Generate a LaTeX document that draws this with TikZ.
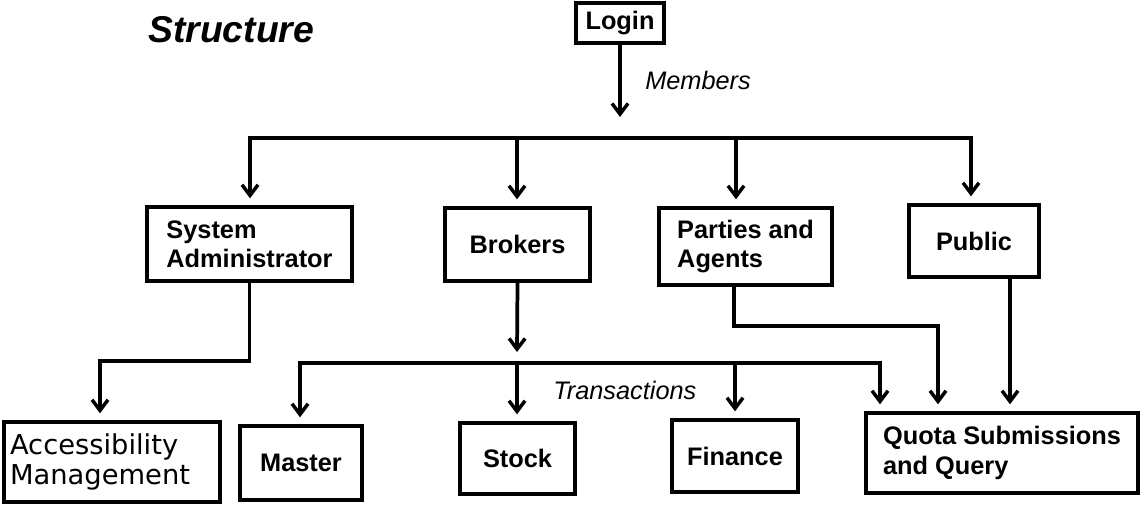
\documentclass[tikz,border=0pt]{standalone}
\usepackage{fontspec}
\setmainfont{Liberation Sans}
\newfontfamily\dejavu{DejaVu Sans}
\usetikzlibrary{arrows.meta}
\begin{document}
\begin{tikzpicture}[x=0.75pt,y=-0.75pt,
  box/.style={draw, line width=3pt, inner sep=0pt, align=left, font=\fontsize{19}{22}\selectfont\bfseries},
  sz/.style 2 args={minimum width=#1*0.75pt, minimum height=#2*0.75pt},
  conn/.style={line width=2.8pt},
  tip/.style={-{Straight Barb[length=8pt,width=12pt,line width=2.6pt]}},
  arr/.style={conn, tip, shorten >=5pt},
  lbl/.style={font=\fontsize{19}{22}\selectfont\itshape, inner sep=0pt, anchor=west}]
\useasboundingbox (0,0) rectangle (1145,509);

\node[font=\fontsize{28}{30}\selectfont\bfseries\itshape, anchor=base west, inner sep=0pt] (title) at (148,43) {Structure};

% boxes
\node[box, sz={88}{40}]  (login) at (620,23) {Login};
\node[box, sz={205}{74}] (sys)   at (249.5,244) {System\\Administrator};
\node[box, sz={145}{73}] (brok)  at (517.5,244.5) {Brokers};
\node[box, sz={173}{77}] (part)  at (745.5,246.5) {Parties and\\Agents};
\node[box, sz={130}{72}] (pub)   at (974,241) {Public};
\node[box, sz={216}{80}, inner xsep=6*0.75pt, text width=204*0.75pt, font=\dejavu\fontsize{20.5}{22}\selectfont] (acc) at (112,462) {Accessibility\\Management};
\node[box, sz={122}{74}] (mast)  at (301,463) {Master};
\node[box, sz={115}{71}] (stock) at (517.5,458.5) {Stock};
\node[box, sz={126}{72}] (fin)   at (735,456) {Finance};
\node[box, sz={272}{80}] (quota) at (1002,453) {Quota Submissions\\and Query};

% labels
\node[lbl] (members) at (645,80) {Members};
\node[lbl] (trans) at (553,390) {Transactions};

% coordinates
\coordinate (mtip) at (620,117);
\coordinate (b1) at (250,138);
\coordinate (b2) at (517,138);
\coordinate (b3) at (736,138);
\coordinate (b4) at (971,138);
\coordinate (btip) at (517,352);
\coordinate (t1) at (300,363);
\coordinate (t2) at (517,363);
\coordinate (t3) at (735,363);
\coordinate (t4) at (880,363);
\coordinate (s1) at (100,361);
\coordinate (p0) at (734,300);
\coordinate (p1) at (938,326);
\coordinate (q1) at (1010,300);

% top level
\draw[conn, tip] (login.south) -- (mtip);
\draw[conn, line cap=rect] (b1) -- (b4);
\draw[arr] (b1) -- (b1 |- sys.north);
\draw[arr] (b2) -- (b2 |- brok.north);
\draw[arr] (b3) -- (b3 |- part.north);
\draw[arr] (b4) -- (b4 |- pub.north);

% system administrator
\draw[arr] (sys.south) |- (s1) -- (s1 |- acc.north);

% brokers
\draw[conn, tip] (brok.south) -- (btip);
\draw[conn, line cap=rect] (t1) -- (t4);
\draw[arr] (t1) -- (t1 |- mast.north);
\draw[arr] (t2) -- (t2 |- stock.north);
\draw[arr] (t3) -- (t3 |- fin.north);
\draw[arr] (t4) -- (t4 |- quota.north);

% parties and public
\draw[arr] (p0 |- part.south) |- (p1) -- (p1 |- quota.north);
\draw[arr] (q1 |- pub.south) -- (q1 |- quota.north);
\end{tikzpicture}
\end{document}
